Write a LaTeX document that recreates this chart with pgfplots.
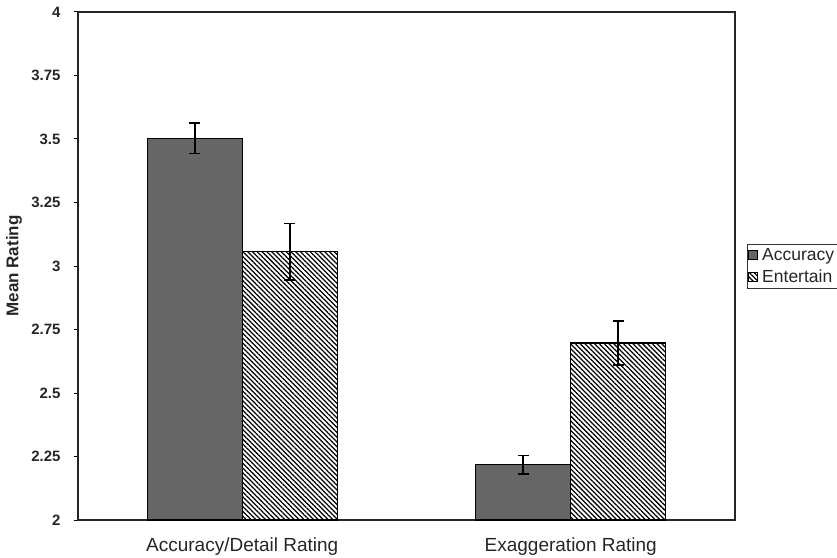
\documentclass[border=0pt]{standalone}
\usepackage{pgfplots}
\pgfplotsset{compat=1.18}
\usepackage{fontspec}
\setmainfont{Liberation Sans}
\usetikzlibrary{patterns.meta}
\definecolor{darkbar}{RGB}{102,102,102}
\begin{document}
\begin{tikzpicture}
\begin{axis}[
  name=ax,
  at={(0pt,0pt)}, anchor=south west,
  width=657pt, height=508pt, scale only axis,
  ybar=0pt, bar width=95pt,
  xmin=-0.5, xmax=1.5, ymin=2, ymax=4,
  xtick={0,1},
  xticklabels={Accuracy/Detail Rating, Exaggeration Rating},
  major x tick style={draw=none},
  ytick={2,2.25,2.5,2.75,3,3.25,3.5,3.75,4},
  yticklabels={2,2.25,2.5,2.75,3,3.25,3.5,3.75,4},
  ytick pos=left, tick align=outside, major tick length=4pt,
  tick style={line width=1pt, black},
  axis line style={line width=1.8pt, black!85},
  /pgf/number format/assume math mode=true,
  yticklabel style={font=\fontsize{15}{15}\selectfont\bfseries, text=black!85, xshift=-10pt},
  xticklabel style={font=\fontsize{19}{19}\selectfont, text=black!85, yshift=-10pt},
  ylabel={Mean Rating},
  every axis y label/.style={at={(rel axis cs:-0.0974,0.5)}, rotate=90, anchor=center, font=\fontsize{17}{17}\selectfont\bfseries, text=black!85},
  legend style={at={(rel axis cs:1.018,0.543)}, anchor=north west, draw=black!80, line width=0.8pt,
    font=\fontsize{17.5}{17.5}\selectfont, inner xsep=1pt, inner ysep=2pt, row sep=4pt, text=black!85},
  legend cell align=left,
  legend image code/.code={\draw[#1, line width=0.8pt] (2pt,-4.5pt) rectangle (11pt,4.5pt); \path (13pt,0pt);},
  error bars/error bar style={line width=1.6pt, black},
  error bars/error mark options={rotate=90, mark size=5.5pt, line width=1.6pt, black},
]
\addplot[fill=darkbar, draw=black, line width=1.2pt,
  error bars/.cd, y dir=both, y explicit]
  coordinates {(0,3.503) +- (0,0.060) (1,2.217) +- (0,0.037)};
\addplot[pattern={Lines[angle=-45,distance=3.4pt,line width=1.25pt]}, pattern color=black, draw=black, line width=1.2pt,
  error bars/.cd, y dir=both, y explicit]
  coordinates {(0,3.056) +- (0,0.112) (1,2.697) +- (0,0.087)};
\legend{Accuracy, Entertain\hspace*{10pt}}
\end{axis}
\pgfresetboundingbox
\path[use as bounding box] (-78pt,-37pt) rectangle (759pt,520pt);
\end{tikzpicture}
\end{document}
